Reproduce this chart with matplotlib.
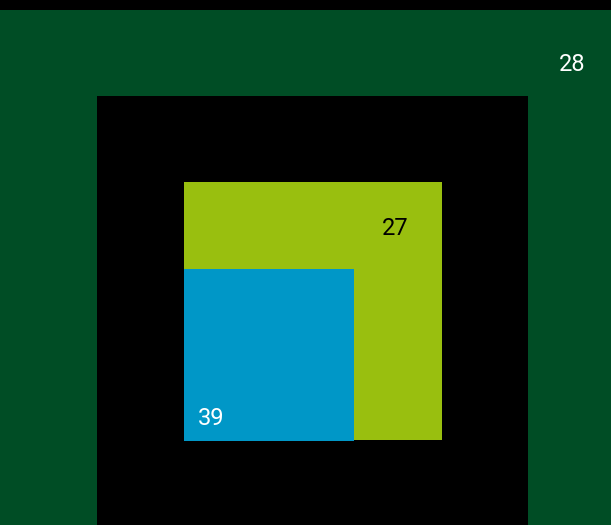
import matplotlib
matplotlib.use("Agg")
import matplotlib.pyplot as plt
from matplotlib.patches import Rectangle

# data
labels = ["28", "27", "39"]
colors = ["#004d25", "#99bf0f", "#0097c7"]
text_colors = ["white", "black", "white"]

# layout (pixel coordinates, origin top-left)
rects = [  # x, y, w, h, facecolor
    (0, 10, 611, 530, colors[0]),
    (97, 96, 431, 440, "black"),
    (184, 182, 258, 258, colors[1]),
    (184, 269, 170, 172, colors[2]),
]
label_pos = [(572, 62), (395, 226), (211, 416)]

fig = plt.figure(figsize=(6.11, 5.25), dpi=100)
fig.patch.set_facecolor("black")
ax = fig.add_axes([0, 0, 1, 1])
ax.set_xlim(0, 611)
ax.set_ylim(525, 0)
ax.axis("off")
ax.set_facecolor("black")

for x, y, w, h, c in rects:
    ax.add_patch(Rectangle((x, y), w, h, facecolor=c, edgecolor="none"))

for lab, (x, y), tc in zip(labels, label_pos, text_colors):
    ax.text(x, y, lab, color=tc, fontsize=17, family=["Roboto", "DejaVu Sans"],
            ha="center", va="center_baseline")

fig.savefig("out.png", dpi=100, facecolor="black")
